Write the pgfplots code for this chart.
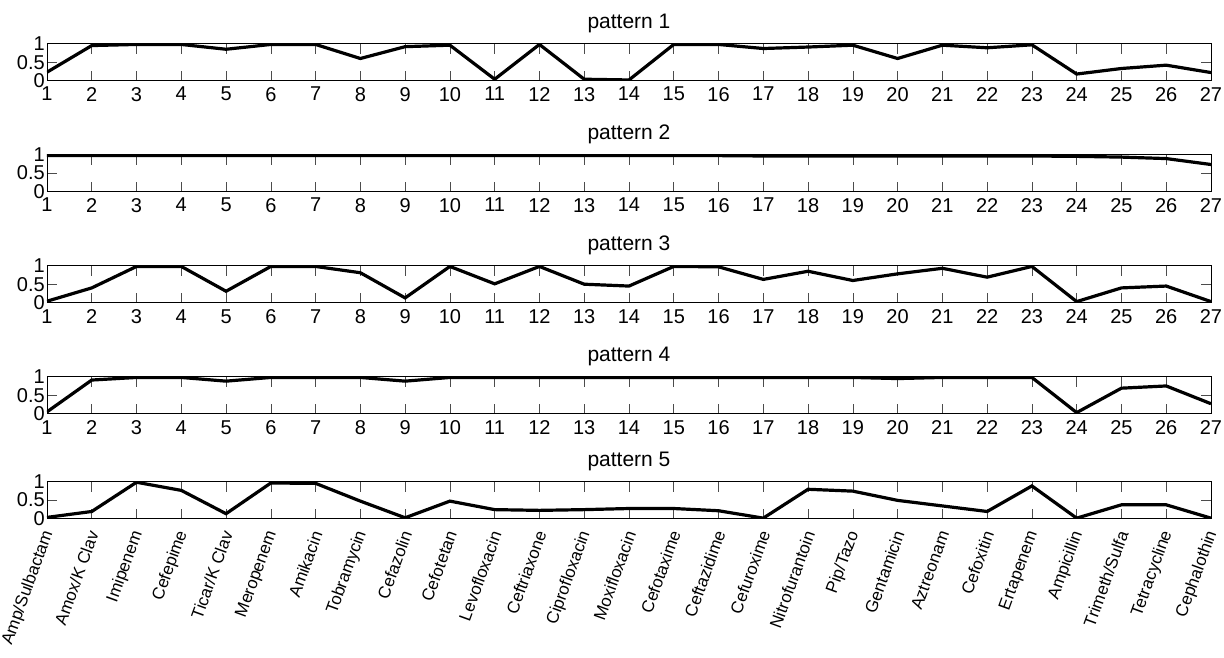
\documentclass[border=0pt]{standalone}
\usepackage{fontspec}
\setmainfont{Liberation Sans}
\usepackage{pgfplots}
\usepackage{pgfplotstable}
\pgfplotsset{compat=1.18}
\pgfplotstableread{
x p1 p2 p3 p4 p5
1 0.23 0.97 0.04 0.05 0.03
2 0.95 0.97 0.40 0.91 0.19
3 0.98 0.97 0.98 0.98 0.98
4 0.98 0.97 0.98 0.98 0.76
5 0.85 0.97 0.31 0.88 0.13
6 0.98 0.97 0.98 0.98 0.96
7 0.98 0.97 0.98 0.98 0.95
8 0.60 0.97 0.81 0.98 0.47
9 0.92 0.97 0.13 0.88 0.02
10 0.96 0.97 0.98 0.98 0.47
11 0.04 0.97 0.51 0.98 0.24
12 0.98 0.97 0.98 0.98 0.22
13 0.04 0.97 0.50 0.98 0.24
14 0.02 0.97 0.45 0.98 0.27
15 0.98 0.97 0.98 0.98 0.27
16 0.98 0.97 0.97 0.98 0.21
17 0.87 0.96 0.63 0.98 0.01
18 0.91 0.96 0.85 0.98 0.79
19 0.96 0.96 0.60 0.98 0.74
20 0.60 0.96 0.78 0.95 0.49
21 0.96 0.96 0.93 0.98 0.34
22 0.89 0.96 0.69 0.98 0.19
23 0.97 0.96 0.98 0.98 0.88
24 0.18 0.95 0.03 0.03 0.01
25 0.33 0.93 0.40 0.69 0.37
26 0.42 0.89 0.45 0.75 0.37
27 0.22 0.73 0.03 0.27 0.01
}\datatable
\pgfplotsset{
  pat/.style={
    scale only axis, width=1164pt, height=37pt,
    xmin=1, xmax=27, ymin=0, ymax=1,
    xtick={1,...,27}, ytick={0,0.5,1},
    tick align=inside, major tick length=10pt,
    axis line style={line width=0.8pt},
    every tick/.style={black!70, line width=0.6pt},
    tick label style={font=\fontsize{20}{22}\selectfont},
    xticklabel style={yshift=-3pt},
    yticklabel style={inner sep=2pt},
    /pgf/number format/assume math mode=true,
    title style={font=\fontsize{21}{24}\selectfont, at={(0.5,1)}, anchor=south, yshift=1pt},
    anchor=north west,
  }
}
\begin{document}
\begin{tikzpicture}
\path[use as bounding box] (0,0) rectangle (1224pt,-657pt);
\begin{axis}[pat, at={(47pt,-43.7pt)}, title={pattern 1}]
\addplot[black, line width=3.2pt] table[x=x, y=p1] {\datatable};
\end{axis}
\begin{axis}[pat, at={(47pt,-154.5pt)}, title={pattern 2}]
\addplot[black, line width=3.2pt] table[x=x, y=p2] {\datatable};
\end{axis}
\begin{axis}[pat, at={(47pt,-265.7pt)}, title={pattern 3}]
\addplot[black, line width=3.2pt] table[x=x, y=p3] {\datatable};
\end{axis}
\begin{axis}[pat, at={(47pt,-376.7pt)}, title={pattern 4}]
\addplot[black, line width=3.2pt] table[x=x, y=p4] {\datatable};
\end{axis}
\begin{axis}[pat, at={(47pt,-481.5pt)}, title={pattern 5},
  xticklabels={Amp/Sulbactam, Amox/K Clav, Imipenem, Cefepime, Ticar/K Clav, Meropenem, Amikacin, Tobramycin, Cefazolin, Cefotetan, Levofloxacin, Ceftriaxone, Ciprofloxacin, Moxifloxacin, Cefotaxime, Ceftazidime, Cefuroxime, Nitrofurantoin, Pip/Tazo, Gentamicin, Aztreonam, Cefoxitin, Ertapenem, Ampicillin, Trimeth/Sulfa, Tetracycline, Cephalothin},
  xticklabel style={xshift=2pt, yshift=-9pt, rotate=70, anchor=east, inner sep=1pt, font=\fontsize{17}{20}\selectfont}]
\addplot[black, line width=3.2pt] table[x=x, y=p5] {\datatable};
\end{axis}
\end{tikzpicture}
\end{document}
